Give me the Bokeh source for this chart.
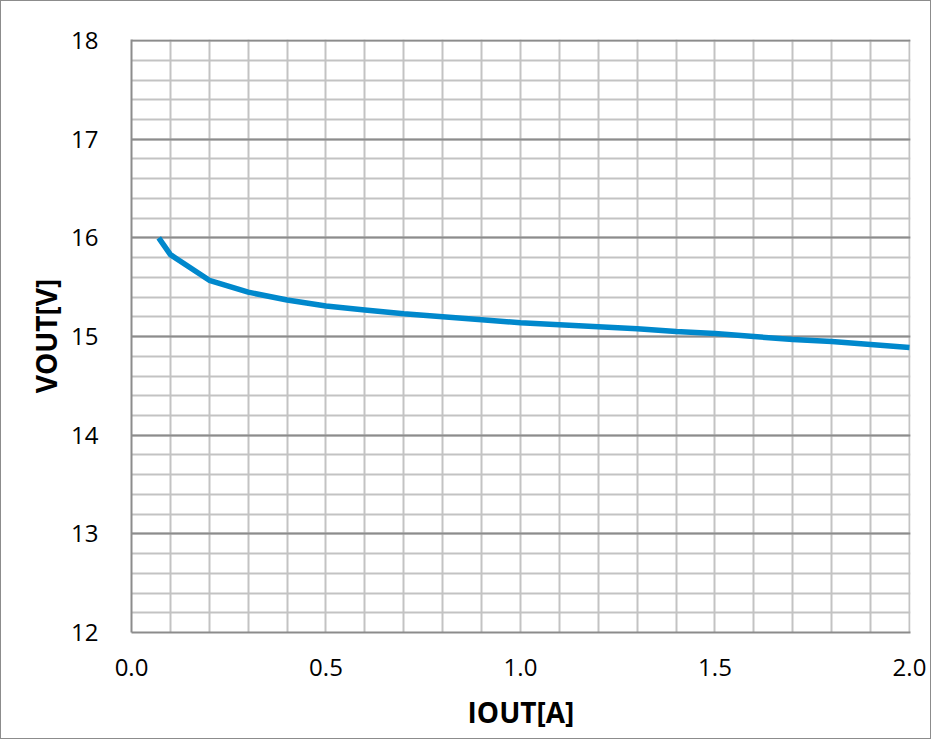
from bokeh.plotting import figure
from bokeh.models import Range1d, FixedTicker, SingleIntervalTicker, NumeralTickFormatter
from bokeh.embed import file_html
from bokeh.resources import INLINE

# data
iout = [0.07, 0.10, 0.20, 0.30, 0.40, 0.50, 0.60, 0.70, 0.80, 0.90, 1.00,
        1.10, 1.20, 1.30, 1.40, 1.50, 1.60, 1.70, 1.80, 1.90, 2.00]
vout = [16.00, 15.83, 15.57, 15.45, 15.37, 15.31, 15.27, 15.23, 15.20, 15.17, 15.14,
        15.12, 15.10, 15.08, 15.05, 15.03, 15.00, 14.97, 14.95, 14.92, 14.89]
x_ticks = [0.0, 0.5, 1.0, 1.5, 2.0]
y_ticks = [12, 13, 14, 15, 16, 17, 18]

FONT = "Open Sans"

p = figure(width=931, height=739, output_backend="svg", toolbar_location=None,
           x_range=Range1d(0, 2.0026), y_range=Range1d(12, 18.011),
           min_border_left=130, min_border_right=22, min_border_top=38, min_border_bottom=108)
p.styles = {"border": "1px solid #8c8c8c"}
p.outline_line_color = None
p.background_fill_color = "white"
p.border_fill_color = "white"

# grids
p.xgrid.ticker = SingleIntervalTicker(interval=0.1)
p.xgrid.grid_line_color = "#c3c3c3"
p.xgrid.grid_line_width = 2
p.ygrid.ticker = SingleIntervalTicker(interval=1, num_minor_ticks=5)
p.ygrid.grid_line_color = "#8c8c8c"
p.ygrid.grid_line_width = 2
p.ygrid.minor_grid_line_color = "#c3c3c3"
p.ygrid.minor_grid_line_width = 2

# axes
p.xaxis.ticker = FixedTicker(ticks=x_ticks)
p.xaxis.formatter = NumeralTickFormatter(format="0.0")
p.yaxis.ticker = FixedTicker(ticks=y_ticks)
for ax in (p.xaxis, p.yaxis):
    ax.axis_line_color = "#8c8c8c"
    ax.axis_line_width = 2
    ax.major_tick_line_color = None
    ax.minor_tick_line_color = None
    ax.major_label_text_font = FONT
    ax.major_label_text_font_size = "24px"
    ax.major_label_text_color = "black"
    ax.axis_label_text_font = FONT
    ax.axis_label_text_font_size = "28px"
    ax.axis_label_text_font_style = "bold"
    ax.axis_label_text_color = "black"

p.xaxis.axis_label = "IOUT[A]"
p.yaxis.axis_label = "VOUT[V]"
p.xaxis.major_label_standoff = 20
p.xaxis.axis_label_standoff = 14
p.yaxis.major_label_standoff = 27
p.yaxis.axis_label_standoff = 3

p.line(iout, vout, line_color="#0088cc", line_width=5.5)

open("out.html", "w").write(file_html(p, INLINE))
